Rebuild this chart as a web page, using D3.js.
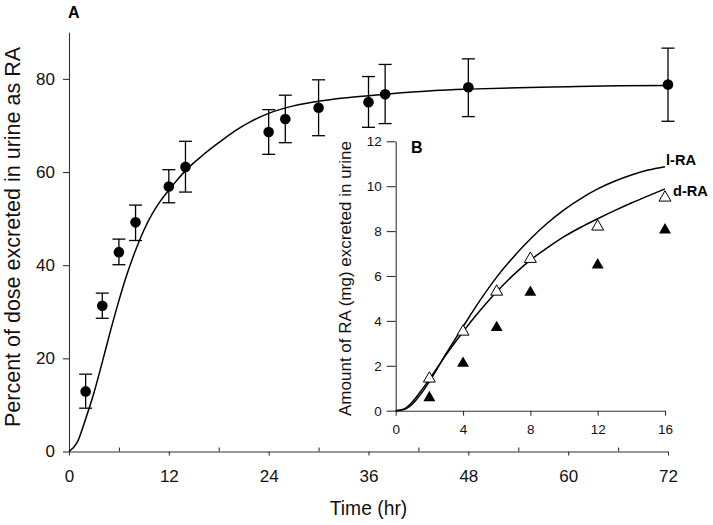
<!DOCTYPE html>
<html><head><meta charset="utf-8">
<script src="https://cdn.jsdelivr.net/npm/d3@7"></script>
<style>
body{margin:0;background:#fff;}
svg{display:block;font-family:"Liberation Sans",Arial,sans-serif;}
</style></head>
<body><svg id="c" width="713" height="525"></svg>
<script>
// ---- Panel A data ----
const timeA = [2, 4, 6, 8, 12, 14, 24, 26, 30, 36, 38, 48, 72];
const pctA  = [12.9, 31.3, 42.8, 49.2, 56.9, 61.1, 68.6, 71.4, 73.8, 75.0, 76.7, 78.2, 78.8];
const errHiA = [16.6, 34.0, 45.6, 52.9, 60.5, 66.6, 73.4, 76.5, 79.8, 80.5, 83.1, 84.3, 86.6];
const errLoA = [9.3, 28.6, 40.1, 45.3, 53.4, 55.7, 63.8, 66.3, 67.8, 69.6, 70.4, 71.9, 70.9];
const fitTimeA = [0, 1, 2, 3, 4, 5, 6, 7, 8, 9, 10, 11, 12, 13, 14, 16, 18, 20, 22, 24, 27, 30, 33, 36, 40, 44, 48, 54, 60, 66, 72];
const fitPctA  = [0, 2.0, 7.0, 12.6, 19.2, 26.0, 32.4, 38.2, 43.2, 47.5, 51.0, 53.8, 56.1, 58.3, 60.3, 63.5, 66.3, 68.9, 71.0, 72.6, 74.2, 75.2, 75.9, 76.4, 77.0, 77.5, 77.8, 78.1, 78.3, 78.5, 78.6];
const xTicksA = [0, 12, 24, 36, 48, 60, 72];
const xMinorA = [6, 18, 30, 42, 54, 66];
const yTicksA = [0, 20, 40, 60, 80];

// ---- Panel B data ----
const timeB = [2, 4, 6, 8, 12, 16];
const openB = [1.43, 3.52, 5.30, 6.76, 8.20, 9.49];
const filledB = [0.58, 2.11, 3.70, 5.27, 6.49, 8.05];
const fitTimeB = [0, 0.5, 1, 1.5, 2, 3, 4, 5, 6, 7, 8, 9, 10, 11, 12, 13, 14, 15, 16];
const fitLB = [0, 0.05, 0.3, 0.75, 1.3, 2.55, 3.74, 4.9, 5.95, 6.85, 7.65, 8.35, 8.95, 9.45, 9.88, 10.22, 10.5, 10.72, 10.87];
const fitDB = [0, 0.08, 0.4, 0.88, 1.4, 2.5, 3.52, 4.45, 5.3, 6.05, 6.71, 7.25, 7.75, 8.17, 8.55, 8.91, 9.25, 9.57, 9.88];
const xTicksB = [0, 4, 8, 12, 16];
const yTicksB = [0, 2, 4, 6, 8, 10, 12];

const svg = d3.select("#c");
const axisColor = "#333";

// ===== Panel A =====
const xA = d3.scaleLinear().domain([0, 72]).range([69, 668]);
const yA = d3.scaleLinear().domain([0, 90]).range([451.5, 32.3]);

const gxA = svg.append("g").attr("transform", `translate(0,${yA(0)})`)
  .call(d3.axisBottom(xA).tickValues(xTicksA).tickSize(4).tickPadding(14).tickSizeOuter(0));
const gxAm = svg.append("g").attr("transform", `translate(0,${yA(0)})`)
  .call(d3.axisTop(xA).tickValues(xMinorA).tickSize(4).tickFormat("").tickSizeOuter(0));
gxAm.select(".domain").remove();
const gyA = svg.append("g").attr("transform", `translate(${xA(0)},0)`)
  .call(d3.axisLeft(yA).tickValues(yTicksA).tickSize(6).tickPadding(8).tickSizeOuter(0));
[gxA, gyA].forEach(g => g.selectAll("text").attr("font-size", "17px").attr("fill", "#111").attr("font-family", "Liberation Sans, Arial, sans-serif"));
[gxA, gxAm, gyA].forEach(g => { g.selectAll("line,path").attr("stroke", axisColor).attr("stroke-width", 1.1); });

// fitted curve
const lineA = d3.line().x((d, i) => xA(fitTimeA[i])).y(d => yA(d)).curve(d3.curveMonotoneX);
svg.append("path").attr("d", lineA(fitPctA)).attr("fill", "none").attr("stroke", "#000").attr("stroke-width", 1.5);

// error bars
const eb = svg.append("g").attr("stroke", "#000").attr("stroke-width", 1.3);
timeA.forEach((t, i) => {
  const x = xA(t);
  eb.append("line").attr("x1", x).attr("x2", x).attr("y1", yA(errHiA[i])).attr("y2", yA(errLoA[i]));
  eb.append("line").attr("x1", x - 6.5).attr("x2", x + 6.5).attr("y1", yA(errHiA[i])).attr("y2", yA(errHiA[i]));
  eb.append("line").attr("x1", x - 6.5).attr("x2", x + 6.5).attr("y1", yA(errLoA[i])).attr("y2", yA(errLoA[i]));
});
svg.append("g").selectAll("circle").data(pctA).join("circle")
  .attr("cx", (d, i) => xA(timeA[i])).attr("cy", d => yA(d)).attr("r", 5.3).attr("fill", "#000");

svg.append("text").attr("x", 68).attr("y", 17.5).attr("font-size", "16px").attr("font-weight", "bold").text("A");
svg.append("text").attr("transform", "translate(19.5,237) rotate(-90)").attr("text-anchor", "middle")
  .attr("font-size", "21.5px").attr("fill", "#111").text("Percent of dose excreted in urine as RA");
svg.append("text").attr("x", 368.5).attr("y", 514.5).attr("text-anchor", "middle")
  .attr("font-size", "19.3px").attr("fill", "#111").text("Time (hr)");

// ===== Panel B =====
const xB = d3.scaleLinear().domain([0, 16]).range([395.7, 665]);
const yB = d3.scaleLinear().domain([0, 12]).range([410.7, 141.3]);
const gxB = svg.append("g").attr("transform", `translate(0,${yB(0)})`)
  .call(d3.axisBottom(xB).tickValues(xTicksB).tickSize(5).tickPadding(9).tickSizeOuter(0));
const gyB = svg.append("g").attr("transform", `translate(${xB(0)},0)`)
  .call(d3.axisLeft(yB).tickValues(yTicksB).tickSize(9).tickPadding(5).tickSizeOuter(0));
[gxB, gyB].forEach(g => {
  g.selectAll("text").attr("font-size", "13.5px").attr("fill", "#111").attr("font-family", "Liberation Sans, Arial, sans-serif");
  g.selectAll("line,path").attr("stroke", axisColor).attr("stroke-width", 1.1);
});

const lineB = d3.line().x((d, i) => xB(fitTimeB[i])).y(d => yB(d)).curve(d3.curveMonotoneX);
svg.append("path").attr("d", lineB(fitLB)).attr("fill", "none").attr("stroke", "#000").attr("stroke-width", 1.5);
svg.append("path").attr("d", lineB(fitDB)).attr("fill", "none").attr("stroke", "#000").attr("stroke-width", 1.5);

const tri = d3.symbol().type(d3.symbolTriangle).size(62);
svg.append("g").selectAll("path").data(filledB).join("path")
  .attr("transform", (d, i) => `translate(${xB(timeB[i])},${yB(d)})`)
  .attr("d", tri).attr("fill", "#000");
svg.append("g").selectAll("path").data(openB).join("path")
  .attr("transform", (d, i) => `translate(${xB(timeB[i])},${yB(d)})`)
  .attr("d", tri).attr("fill", "#fff").attr("stroke", "#000").attr("stroke-width", 1);

svg.append("text").attr("x", 411).attr("y", 153.3).attr("font-size", "16px").attr("font-weight", "bold").text("B");
svg.append("text").attr("x", 666).attr("y", 165).attr("font-size", "14.6px").attr("font-weight", "bold").text("l-RA");
svg.append("text").attr("x", 673).attr("y", 195.5).attr("font-size", "14.6px").attr("font-weight", "bold").text("d-RA");
svg.append("text").attr("transform", "translate(351,278.5) rotate(-90)").attr("text-anchor", "middle")
  .attr("font-size", "17px").attr("fill", "#111").text("Amount of RA (mg) excreted in urine");
</script></body></html>
